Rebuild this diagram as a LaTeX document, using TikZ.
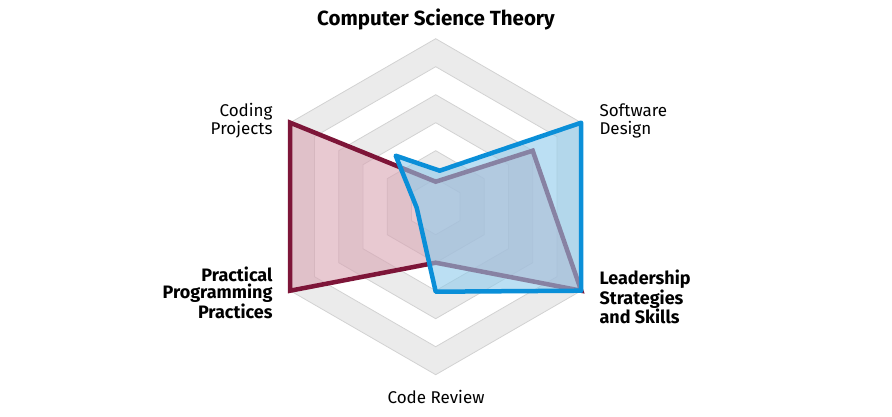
\documentclass[tikz,border=0pt]{standalone}
\usepackage{fontspec}
\setmainfont{Fira Sans}
\definecolor{ring}{HTML}{EBEBEB}
\definecolor{ringline}{HTML}{D2D2D2}
\definecolor{redS}{HTML}{7D1538}
\definecolor{redF}{HTML}{D9A5B3}
\definecolor{blueS}{HTML}{0A8FD8}
\definecolor{blueF}{HTML}{8FCBEB}
\tikzset{lab/.style={font=\fontsize{17}{18}\selectfont, align=left},
 blab/.style={font=\bfseries\fontsize{18}{17}\selectfont}}
\newcommand{\hexr}[1]{(90:#1)--(30:#1)--(-30:#1)--(-90:#1)--(210:#1)--(150:#1)--cycle}
\begin{document}
\begin{tikzpicture}[x=1pt,y=1pt]
\useasboundingbox (0,0) rectangle (892,416);
\begin{scope}[shift={(435.7,209.3)}]
\foreach \r/\c in {168/ring,140/white,112/ring,84/white,56/ring,28/white}
  \draw[ringline, fill=\c, line width=0.8pt] \hexr{\r};
\coordinate (r1) at (90:25); \coordinate (r2) at (30:112); \coordinate (r3) at (-30:168);
\coordinate (r4) at (-90:56); \coordinate (r5) at (210:168); \coordinate (r6) at (150:168);
\filldraw[redS, fill=redF, fill opacity=0.6, line width=4.5pt, line join=miter]
  (r1)--(r2)--(r3)--(r4)--(r5)--(r6)--cycle;
\coordinate (b1) at (4,36); \coordinate (b2) at (30:168); \coordinate (b3) at (-30:168);
\coordinate (b4) at (-90:85); \coordinate (b5) at (-19,-1); \coordinate (b6) at (-40,51);
\filldraw[blueS, fill=blueF, fill opacity=0.6, line width=4.5pt, line join=round]
  (b1)--(b2)--(b3)--(b4)--(b5)--(b6)--cycle;
\end{scope}
\node[font=\bfseries\fontsize{20.5}{22}\selectfont] (t1) at (436,397) {Computer Science Theory};
\node[lab, anchor=west] (t2) at (596,295) {Software\\Design};
\node[blab, anchor=west, align=left] (t3) at (596,119) {Leadership\\Strategies\\and Skills};
\node[lab] (t4) at (436,19) {Code Review};
\node[blab, anchor=east, align=right] (t5) at (276,123) {Practical\\Programming\\Practices};
\node[lab, anchor=east, align=right] (t6) at (276,295) {Coding\\Projects};
\end{tikzpicture}
\end{document}
